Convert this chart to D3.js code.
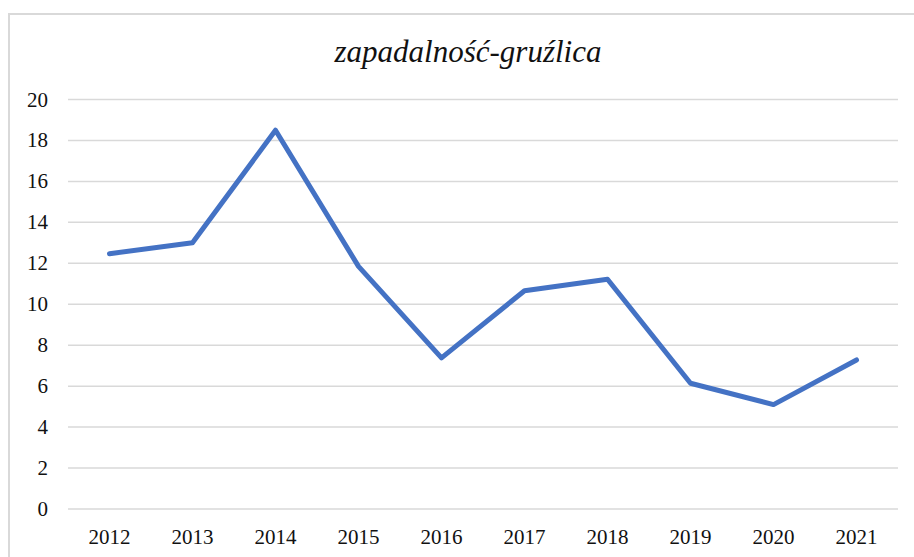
<!DOCTYPE html>
<html>
<head>
<meta charset="utf-8">
<script src="https://cdn.jsdelivr.net/npm/d3@7"></script>
<style>
  body { margin: 0; background: #fff; }
</style>
</head>
<body>
<svg id="chart" width="914" height="557"></svg>
<script>
// Chart data
const years = ["2012", "2013", "2014", "2015", "2016", "2017", "2018", "2019", "2020", "2021"];
const values = [12.47, 13.0, 18.5, 11.85, 7.38, 10.66, 11.22, 6.14, 5.1, 7.28];
const yTicks = [0, 2, 4, 6, 8, 10, 12, 14, 16, 18, 20];
const title = "zapadalność-gruźlica";

const fontFamily = "'Liberation Serif'";
const svg = d3.select("#chart");

// Outer chart border (only top and left edges fall inside the window)
svg.append("rect")
  .attr("x", 9)
  .attr("y", 14)
  .attr("width", 940)
  .attr("height", 600)
  .attr("fill", "#fff")
  .attr("stroke", "#d9d9d9")
  .attr("stroke-width", 2);

const margin = { left: 68, right: 898, top: 99.5, bottom: 509 };

const x = d3.scalePoint()
  .domain(years)
  .range([margin.left, margin.right])
  .padding(0.5);

const y = d3.scaleLinear()
  .domain([0, 20])
  .range([margin.bottom, margin.top]);

// Gridlines
svg.append("g")
  .selectAll("line")
  .data(yTicks)
  .enter()
  .append("line")
  .attr("x1", margin.left)
  .attr("x2", margin.right)
  .attr("y1", d => y(d))
  .attr("y2", d => y(d))
  .attr("stroke", "#d9d9d9")
  .attr("stroke-width", 1.5);

// Y axis labels
svg.append("g")
  .selectAll("text")
  .data(yTicks)
  .enter()
  .append("text")
  .attr("x", 48)
  .attr("y", d => y(d) + 7)
  .attr("text-anchor", "end")
  .style("font-family", fontFamily)
  .style("font-size", "21px")
  .style("fill", "#111")
  .text(d => d);

// X axis labels
svg.append("g")
  .selectAll("text")
  .data(years)
  .enter()
  .append("text")
  .attr("x", d => x(d))
  .attr("y", 544)
  .attr("text-anchor", "middle")
  .style("font-family", fontFamily)
  .style("font-size", "21px")
  .style("fill", "#111")
  .text(d => d);

// Data line
const line = d3.line()
  .x((d, i) => x(years[i]))
  .y(d => y(d));

svg.append("path")
  .datum(values)
  .attr("d", line)
  .attr("fill", "none")
  .attr("stroke", "#4472c4")
  .attr("stroke-width", 5)
  .attr("stroke-linejoin", "round")
  .attr("stroke-linecap", "round");

// Title
svg.append("text")
  .attr("x", 468)
  .attr("y", 62)
  .attr("text-anchor", "middle")
  .style("font-family", fontFamily)
  .style("font-style", "italic")
  .style("font-size", "31px")
  .style("fill", "#111")
  .text(title);
</script>
</body>
</html>
